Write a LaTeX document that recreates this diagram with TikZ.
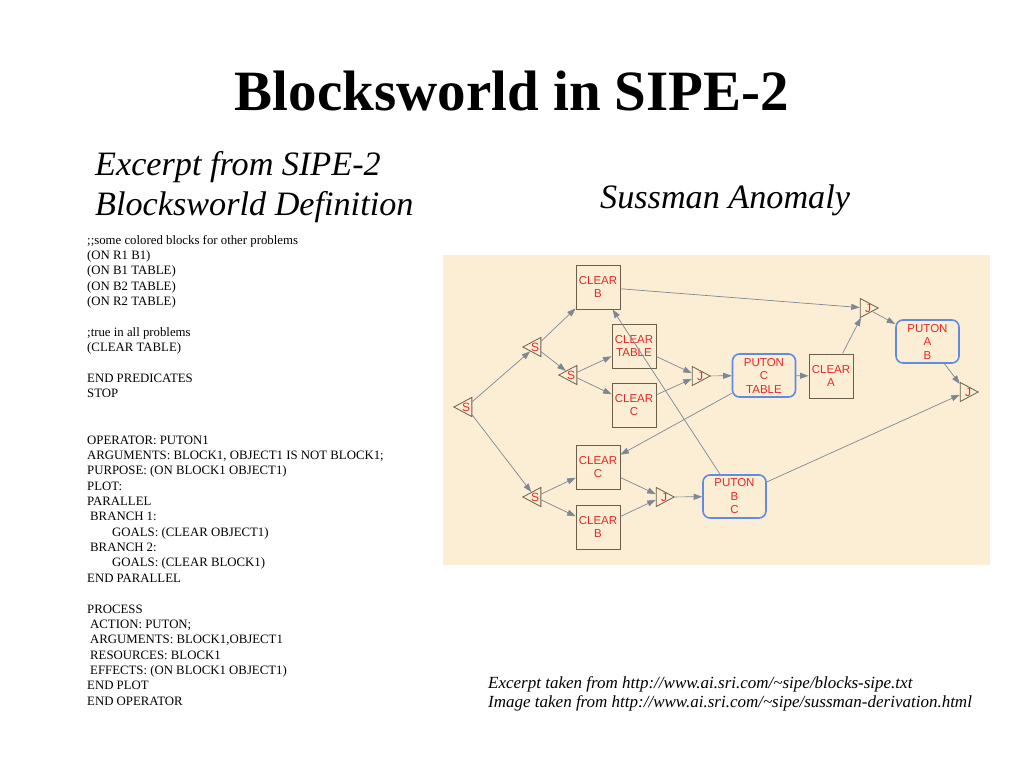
\documentclass[tikz,border=0pt]{standalone}
\usepackage{fontspec}
\setmainfont{Liberation Serif}
\setsansfont{Liberation Sans}
\usetikzlibrary{shapes.geometric,arrows.meta}
\definecolor{paper}{RGB}{252,238,212}
\definecolor{edge}{RGB}{125,135,150}
\definecolor{boxline}{RGB}{105,95,75}
\definecolor{putline}{RGB}{95,140,225}
\definecolor{lbl}{RGB}{232,40,40}
\begin{document}
\begin{tikzpicture}[x=1pt,y=-1pt]
  %
  \tikzstyle{clr} = [draw=boxline, line width=0.9pt, minimum width=44pt, minimum height=44pt, inner sep=0pt, align=center, text=lbl, font=\sffamily\fontsize{11.5}{13.5}\selectfont]
  \tikzstyle{put} = [clr, draw=putline, line width=1.6pt, rounded corners=7pt, minimum width=63pt, minimum height=43pt]
  \tikzstyle{spl} = [draw=boxline, line width=0.8pt, isosceles triangle, isosceles triangle apex angle=56, minimum size=18pt, inner sep=0pt, shape border rotate=180, anchor=apex]
  \tikzstyle{joi} = [spl, shape border rotate=0]
  \tikzstyle{tag} = [text=lbl, inner sep=0pt, font=\sffamily\fontsize{12}{14}\selectfont]
  \tikzstyle{lnk} = [draw=edge, line width=0.7pt, -{Triangle[length=8.5pt,width=6pt]}]
  \tikzstyle{code} = [inner sep=0pt, align=left, anchor=north west, font=\fontsize{12.8}{15.37}\selectfont]
  \tikzstyle{sub} = [inner sep=0pt, anchor=base west, font=\itshape\fontsize{34.2}{40}\selectfont]
  \tikzstyle{note} = [inner sep=0pt, anchor=base west, font=\itshape\fontsize{17}{19}\selectfont]
  %
  \fill[white] (0,0) rectangle (1024,768);
  \useasboundingbox (0,0) rectangle (1024,768);
  %
  \node[inner sep=0pt, anchor=base, font=\bfseries\fontsize{57}{62}\selectfont] (title) at (512,110) {Blocksworld in SIPE-2};
  \node[sub] (sub1) at (95,175) {Excerpt from SIPE-2};
  \node[sub] (sub2) at (95,215) {Blocksworld Definition};
  \node[sub] (sub3) at (600,208) {Sussman Anomaly};
  %
  \node[code] (defn) at (87,235) {%
    ;;some colored blocks for other problems\\
    (ON R1 B1)\\
    (ON B1 TABLE)\\
    (ON B2 TABLE)\\
    (ON R2 TABLE)\\[15.37pt]
    ;true in all problems\\
    (CLEAR TABLE)\\[15.37pt]
    END PREDICATES\\
    STOP\\[30.74pt]
    OPERATOR: PUTON1\\
    ARGUMENTS: BLOCK1, OBJECT1 IS NOT BLOCK1;\\
    PURPOSE: (ON BLOCK1 OBJECT1)\\
    PLOT:\\
    PARALLEL\\
    \hspace{3pt}BRANCH 1:\\
    \hspace{25pt}GOALS: (CLEAR OBJECT1)\\
    \hspace{3pt}BRANCH 2:\\
    \hspace{25pt}GOALS: (CLEAR BLOCK1)\\
    END PARALLEL\\[15.37pt]
    PROCESS\\
    \hspace{3pt}ACTION: PUTON;\\
    \hspace{3pt}ARGUMENTS: BLOCK1,OBJECT1\\
    \hspace{3pt}RESOURCES: BLOCK1\\
    \hspace{3pt}EFFECTS: (ON BLOCK1 OBJECT1)\\
    END PLOT\\
    END OPERATOR};
  %
  % the plan
  \fill[paper] (443,255) rectangle (990,565);
  \node[clr] (cb1) at (598,287) {CLEAR\\B};
  \node[clr] (ctab) at (634,346) {CLEAR\\TABLE};
  \node[clr] (cc1) at (634,405) {CLEAR\\C};
  \node[put] (pct) at (764,375.5) {PUTON\\C\\TABLE};
  \node[clr] (ca) at (831,376) {CLEAR\\A};
  \node[put] (pab) at (927.5,341.5) {PUTON\\A\\B};
  \node[clr] (cc2) at (598,467) {CLEAR\\C};
  \node[clr] (cb2) at (598,527) {CLEAR\\B};
  \node[put] (pbc) at (734.5,496.5) {PUTON\\B\\C};
  %
  \node[spl] (s1) at (453,407) {};
  \node[spl] (s2) at (522,347) {};
  \node[spl] (s3) at (558,375) {};
  \node[spl] (s4) at (522,497) {};
  \node[joi] (j1) at (711,376) {};
  \node[joi] (j2) at (879,308) {};
  \node[joi] (j3) at (979,392) {};
  \node[joi] (j4) at (675,497) {};
  \node[tag] (s1t) at ([xshift=13pt]s1.apex) {S};
  \node[tag] (s2t) at ([xshift=13pt]s2.apex) {S};
  \node[tag] (s3t) at ([xshift=13pt]s3.apex) {S};
  \node[tag] (s4t) at ([xshift=13pt]s4.apex) {S};
  \node[tag] (j1t) at ([xshift=-11pt]j1.apex) {J};
  \node[tag] (j2t) at ([xshift=-11pt]j2.apex) {J};
  \node[tag] (j3t) at ([xshift=-11pt]j3.apex) {J};
  \node[tag] (j4t) at ([xshift=-11pt]j4.apex) {J};
  %
  \draw[lnk] (s1) -- (s2);
  \draw[lnk] (s1) -- (s4);
  \draw[lnk] (s2) -- (cb1);
  \draw[lnk] (s2) -- (s3);
  \draw[lnk] (s3) -- (ctab);
  \draw[lnk] (s3) -- (cc1);
  \draw[lnk] (ctab) -- (j1);
  \draw[lnk] (cc1) -- (j1);
  \draw[lnk] (j1) -- (pct);
  \draw[lnk] (pct) -- (ca);
  \draw[lnk] (ca) -- (j2);
  \draw[lnk] (cb1) -- (j2);
  \draw[lnk] (j2) -- (pab);
  \draw[lnk] (pab) -- (j3);
  \draw[lnk] (pct) -- (cc2);
  \draw[lnk] (pbc) -- (cb1);
  \draw[lnk] (pbc) -- (j3);
  \draw[lnk] (s4) -- (cc2);
  \draw[lnk] (s4) -- (cb2);
  \draw[lnk] (cc2) -- (j4);
  \draw[lnk] (cb2) -- (j4);
  \draw[lnk] (j4) -- (pbc);
  %
  \node[note] (src1) at (488,688) {Excerpt taken from http://www.ai.sri.com/\string~sipe/blocks-sipe.txt};
  \node[note] (src2) at (488,707) {Image taken from http://www.ai.sri.com/\string~sipe/sussman-derivation.html};
\end{tikzpicture}
\end{document}
